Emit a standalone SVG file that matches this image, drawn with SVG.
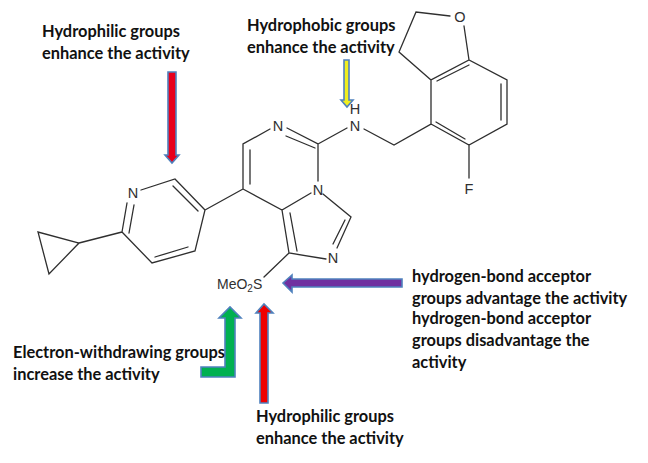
<svg xmlns="http://www.w3.org/2000/svg" width="648" height="463" viewBox="0 0 648 463">
<style>
.b{fill:none;stroke:#2f2f2f;stroke-width:1.3;stroke-linecap:round}
.a{font-family:"Liberation Sans",Arial,sans-serif;font-size:14.5px;fill:#303030}
.l{font-family:Lato,"Open Sans",sans-serif;font-weight:700;font-size:16.4px;fill:#111}
.s{stroke:#4f81bd;stroke-width:1.6}
</style>
<rect width="648" height="463" fill="#fff"/>
<g id="molecule">
<path class="b" d="M49 274L38 232L79 243ZM79 243L122 232M122 232L127 203M129 233L134 205M122 232L152 263L195 251L205 210L175 179L141 190M155 257L188 247M173 186L198 211M205 210L243 189M243 189V144L270 129M250 184V150M243 189L282 210L311 193M318 181V144L287 128M315 148L286 136M318 144L347 128M282 210L289 253L326 259M290 213L297 251M323 194L351 217L337 248M345 220L333 244M289 253L264 277M364 129L394 145L431 124V80L469 60L507 80V124L469 145L431 124M437 81L469 65M501 84V120M465 139L436 122M431 80L399 52L416 12L450 16M464 26L469 60M469 145V178"/>
<text class="a" x="278" y="131" text-anchor="middle">N</text>
<text class="a" x="355" y="114" text-anchor="middle">H</text>
<text class="a" x="355" y="131" text-anchor="middle">N</text>
<text class="a" x="318" y="195" text-anchor="middle">N</text>
<text class="a" x="333" y="263" text-anchor="middle">N</text>
<text class="a" x="133" y="198" text-anchor="middle">N</text>
<text class="a" x="460" y="22" text-anchor="middle">O</text>
<text class="a" x="469" y="194" text-anchor="middle">F</text>
<text class="a" x="217" y="289" style="font-size:14px">MeO<tspan font-size="10" dy="3">2</tspan><tspan dy="-3">S</tspan></text>
</g>
<g id="connectors">
<path class="s" fill="#e8001c" d="M168 72H176V155H179L172 163L165 155H168Z"/>
<path class="s" fill="#f0ee1e" d="M344 60H349V100H353L347 107L341 100H344Z"/>
<path class="s" fill="#7030a0" d="M402 279V287H292V292L283 283L292 275V279Z"/>
<path class="s" fill="#00b050" d="M201 367H225V318H219L230 307L241 318H235V377H201Z"/>
<path class="s" fill="#f00000" d="M260 403V313H256L264 304L273 313H268V403Z"/>
</g>
<g id="labels">
<text class="l" x="42" y="37">Hydrophilic groups</text>
<text class="l" x="42" y="59">enhance the activity</text>
<text class="l" x="247" y="31">Hydrophobic groups</text>
<text class="l" x="247" y="53">enhance the activity</text>
<text class="l" x="412" y="282">hydrogen-bond acceptor</text>
<text class="l" x="412" y="304">groups advantage the activity</text>
<text class="l" x="412" y="324">hydrogen-bond acceptor</text>
<text class="l" x="412" y="346">groups disadvantage the</text>
<text class="l" x="412" y="368">activity</text>
<text class="l" x="13" y="358">Electron-withdrawing groups</text>
<text class="l" x="13" y="380">increase the activity</text>
<text class="l" x="256" y="422">Hydrophilic groups</text>
<text class="l" x="256" y="444">enhance the activity</text>
</g>
</svg>
